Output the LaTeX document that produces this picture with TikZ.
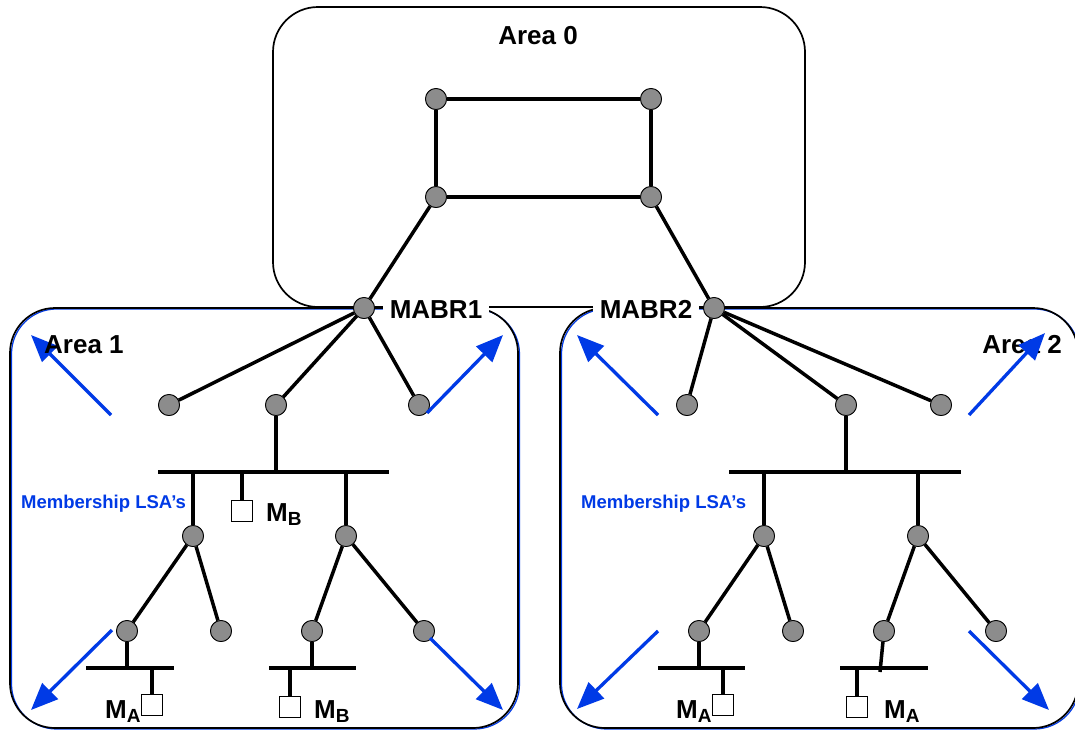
\documentclass[tikz,border=0pt]{standalone}
\usepackage{fontspec}
\setmainfont{Liberation Sans}
\usetikzlibrary{arrows.meta}
\definecolor{lsablue}{RGB}{0,58,230}
\definecolor{routergray}{RGB}{140,140,140}
\newcommand{\MemberLabel}[2]{{\fontsize{26}{26}\selectfont M}\raisebox{-4pt}{\fontsize{19}{19}\selectfont #2}}

\begin{document}
\begin{tikzpicture}[x=1pt,y=-1pt,
  router/.style={circle,draw=black,line width=0.8pt,fill=routergray,minimum size=21pt,inner sep=0pt},
  link/.style={line width=3.5pt},
  member/.style={draw,line width=1.5pt,fill=white,minimum size=21pt,inner sep=0pt},
  areabox/.style={draw,line width=1.7pt,rounded corners=45pt},
  areashade/.style={draw=lsablue,line width=1.2pt,rounded corners=45pt},
  lsa/.style={draw=lsablue,line width=3.3pt,-{Triangle[length=27pt,width=22pt]}},
  lbl/.style={font=\bfseries\fontsize{26}{26}\selectfont,inner sep=0pt},
  mlbl/.style={font=\bfseries,inner sep=0pt,anchor=base west},
  lsalbl/.style={font=\bfseries\fontsize{18.5}{18.5}\selectfont,text=lsablue,inner sep=0pt,anchor=base west}]

\useasboundingbox (0,0) rectangle (1075,732);
\fill[white] (0,0) rectangle (1075,732);

% area outlines
\draw[areashade] (11.5,309) rectangle (519.5,729);
\draw[areashade] (561.5,309) rectangle (1079.5,729);
\draw[areabox] (10,308) rectangle (518,728);
\draw[areabox] (560,308) rectangle (1078,728);
\draw[areabox] (273,7) rectangle (805,307);

% backbone routers
\node[router] (a0tl) at (436,99) {};
\node[router] (a0tr) at (651,99) {};
\node[router] (a0bl) at (436,197) {};
\node[router] (a0br) at (651,197) {};
\node[router] (mabr1) at (364,308) {};
\node[router] (mabr2) at (714,308) {};

% area 1 routers
\node[router] (r1a) at (169,405) {};
\node[router] (r1b) at (276,405) {};
\node[router] (r1c) at (419,405) {};
\node[router] (r1d) at (193,536) {};
\node[router] (r1e) at (346,536) {};
\node[router] (r1f) at (127,631) {};
\node[router] (r1g) at (221,631) {};
\node[router] (r1h) at (312,631) {};
\node[router] (r1i) at (424,631) {};

% area 2 routers
\node[router] (r2a) at (687,405) {};
\node[router] (r2b) at (846,405) {};
\node[router] (r2c) at (941,405) {};
\node[router] (r2d) at (764,536) {};
\node[router] (r2e) at (918,536) {};
\node[router] (r2f) at (699,631) {};
\node[router] (r2g) at (793,631) {};
\node[router] (r2h) at (884,631) {};
\node[router] (r2i) at (996,631) {};

% group members
\node[member] (m1) at (242,511) {};
\node[member] (m2) at (152,705) {};
\node[member] (m3) at (290,707) {};
\node[member] (m4) at (723,705) {};
\node[member] (m5) at (857,707) {};

% LAN segments
\coordinate (b1l) at (158,472); \coordinate (b1r) at (389,472);
\coordinate (b2l) at (86,668);  \coordinate (b2r) at (174,668);
\coordinate (b3l) at (269,668); \coordinate (b3r) at (356,668);
\coordinate (b4l) at (729,472); \coordinate (b4r) at (961,472);
\coordinate (b5l) at (658,668); \coordinate (b5r) at (745,668);
\coordinate (b6l) at (840,668); \coordinate (b6r) at (928,668);
\coordinate (t6) at (880,672);

% point-to-point links
\draw[link] (a0tl) -- (a0tr) -- (a0br) -- (a0bl) -- (a0tl);
\draw[link] (a0bl) -- (mabr1);
\draw[link] (a0br) -- (mabr2);
\draw[link] (mabr1) -- (r1a);
\draw[link] (mabr1) -- (r1b);
\draw[link] (mabr1) -- (r1c);
\draw[link] (mabr2) -- (r2a);
\draw[link] (mabr2) -- (r2b);
\draw[link] (mabr2) -- (r2c);
% area 1 networks
\draw[link] (b1l) -- (b1r);
\draw[link] (r1b) -- (r1b |- b1l);
\draw[link] (r1d |- b1l) -- (r1d);
\draw[link] (r1e |- b1l) -- (r1e);
\draw[link] (m1 |- b1l) -- (m1);
\draw[link] (r1d) -- (r1f);
\draw[link] (r1d) -- (r1g);
\draw[link] (r1e) -- (r1h);
\draw[link] (r1e) -- (r1i);
\draw[link] (b2l) -- (b2r);
\draw[link] (r1f) -- (r1f |- b2l);
\draw[link] (m2 |- b2l) -- (m2);
\draw[link] (b3l) -- (b3r);
\draw[link] (r1h) -- (r1h |- b3l);
\draw[link] (m3 |- b3l) -- (m3);
% area 2 networks
\draw[link] (b4l) -- (b4r);
\draw[link] (r2b) -- (r2b |- b4l);
\draw[link] (r2d |- b4l) -- (r2d);
\draw[link] (r2e |- b4l) -- (r2e);
\draw[link] (r2d) -- (r2f);
\draw[link] (r2d) -- (r2g);
\draw[link] (r2e) -- (r2h);
\draw[link] (r2e) -- (r2i);
\draw[link] (b5l) -- (b5r);
\draw[link] (r2f) -- (r2f |- b5l);
\draw[link] (m4 |- b5l) -- (m4);
\draw[link] (b6l) -- (b6r);
\draw[link] (r2h) -- (t6);
\draw[link] (m5 |- b6l) -- (m5);

% border router labels
\node[lbl,fill=white,inner xsep=7pt,inner ysep=4pt,anchor=base] (mabr1lbl) at (436,318) {MABR1};
\node[lbl,fill=white,inner xsep=7pt,inner ysep=4pt,anchor=base] (mabr2lbl) at (646,318) {MABR2};

% routers and members drawn again above the links
\foreach \r in {a0tl,a0tr,a0bl,a0br,mabr1,mabr2,r1a,r1b,r1c,r1d,r1e,r1f,r1g,r1h,r1i,r2a,r2b,r2c,r2d,r2e,r2f,r2g,r2h,r2i}
  \node[router] at (\r) {};
\foreach \m in {m1,m2,m3,m4,m5}
  \node[member] at (\m) {};

% area names (Area 2 sits under its arrow)
\node[lbl,anchor=base] (area0) at (538,44) {Area 0};
\node[lbl,anchor=base east] (area2) at (1062,353) {Area 2};

% membership LSA flooding
\coordinate (s1) at (111,415); \coordinate (e1) at (31,335);
\coordinate (s2) at (427,413); \coordinate (e2) at (503,335);
\coordinate (s3) at (112,630); \coordinate (e3) at (31,710);
\coordinate (s4) at (430,638); \coordinate (e4) at (503,710);
\coordinate (s5) at (658,415); \coordinate (e5) at (577,335);
\coordinate (s6) at (969,415); \coordinate (e6) at (1045,333);
\coordinate (s7) at (658,631); \coordinate (e7) at (577,709);
\coordinate (s8) at (969,631); \coordinate (e8) at (1049,710);
\foreach \i in {1,...,8}
  \draw[lsa] (s\i) -- (e\i);

\node[lbl,anchor=base west] (area1) at (44,353) {Area 1};

\node[lsalbl] (lsa1) at (21,508) {Membership LSA’s};
\node[lsalbl] (lsa2) at (581,508) {Membership LSA’s};

% member labels
\node[mlbl] (mb1) at (266,521) {\MemberLabel{M}{B}};
\node[mlbl] (ma1) at (105,718) {\MemberLabel{M}{A}};
\node[mlbl] (mb2) at (314,718) {\MemberLabel{M}{B}};
\node[mlbl] (ma2) at (676,718) {\MemberLabel{M}{A}};
\node[mlbl] (ma3) at (884,718) {\MemberLabel{M}{A}};
\end{tikzpicture}
\end{document}
